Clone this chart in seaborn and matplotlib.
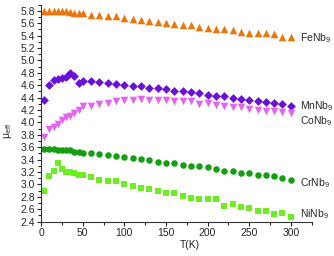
import numpy as np
import pandas as pd
import matplotlib
matplotlib.use("Agg")
import matplotlib.pyplot as plt
from matplotlib.ticker import MultipleLocator
import seaborn as sns

sns.set_style("ticks")
plt.rcParams['font.family'] = ['Liberation Sans', 'DejaVu Sans']
plt.rcParams['mathtext.default'] = 'regular'

# temperatures (K)
T = [4, 10, 15, 20, 25, 30, 35, 40, 45, 50,
     60, 70, 80, 90, 100, 110, 120, 130, 140, 150, 160, 170, 180, 190,
     200, 210, 220, 230, 240, 250, 260, 270, 280, 290, 300]

fe = [5.79, 5.80, 5.80, 5.80, 5.79, 5.79, 5.78, 5.77, 5.77, 5.76,
      5.74, 5.73, 5.72, 5.71, 5.68, 5.67, 5.65, 5.64, 5.62, 5.60, 5.58, 5.57, 5.57, 5.54,
      5.52, 5.51, 5.50, 5.49, 5.46, 5.45, 5.44, 5.44, 5.43, 5.38, 5.37]
mn = [4.36, 4.60, 4.68, 4.70, 4.72, 4.74, 4.80, 4.75, 4.64, 4.67,
      4.67, 4.65, 4.64, 4.62, 4.61, 4.59, 4.58, 4.56, 4.55, 4.54, 4.51, 4.50, 4.49, 4.47,
      4.44, 4.43, 4.42, 4.40, 4.38, 4.36, 4.35, 4.33, 4.31, 4.30, 4.27]
co = [3.77, 3.90, 3.93, 3.98, 4.04, 4.08, 4.10, 4.15, 4.20, 4.27,
      4.27, 4.30, 4.32, 4.35, 4.36, 4.37, 4.38, 4.37, 4.37, 4.36, 4.35, 4.34, 4.34, 4.30,
      4.31, 4.28, 4.26, 4.25, 4.25, 4.22, 4.20, 4.19, 4.19, 4.17, 4.15]
cr = [3.57, 3.57, 3.57, 3.56, 3.56, 3.55, 3.55, 3.53, 3.52, 3.51,
      3.50, 3.49, 3.48, 3.46, 3.45, 3.42, 3.41, 3.40, 3.37, 3.35, 3.34, 3.31, 3.30, 3.29,
      3.28, 3.25, 3.22, 3.21, 3.19, 3.18, 3.16, 3.15, 3.14, 3.10, 3.07]
ni = [2.90, 3.14, 3.22, 3.34, 3.25, 3.20, 3.20, 3.18, 3.15, 3.15,
      3.12, 3.08, 3.06, 3.05, 3.01, 2.98, 2.95, 2.93, 2.90, 2.87, 2.87, 2.81, 2.79, 2.77,
      2.77, 2.77, 2.66, 2.69, 2.63, 2.62, 2.58, 2.58, 2.52, 2.54, 2.47]

names = ["FeNb$_9$", "MnNb$_9$", "CoNb$_9$", "CrNb$_9$", "NiNb$_9$"]
label_y = [5.36, 4.26, 4.02, 3.03, 2.52]
colors = ["#E8780E", "#6A10D8", "#E464F0", "#12A012", "#6CEE20"]
markers = ["^", "D", "v", "o", "s"]
sizes = [30, 20, 30, 22, 20]

df = pd.concat([pd.DataFrame({"T": T, "mu": v, "s": n})
                for n, v in zip(names, [fe, mn, co, cr, ni])])

fig = plt.figure(figsize=(3.34, 2.56), dpi=100)
ax = fig.add_axes([0.123, 0.134, 0.81, 0.848])

for n, c, m, s in zip(names, colors, markers, sizes):
    sub = df[df["s"] == n]
    sns.scatterplot(data=sub, x="T", y="mu", color=c, marker=m, s=s,
                    linewidth=0, ax=ax, legend=False)

for n, y in zip(names, label_y):
    ax.text(311, y, n, fontsize=7.5, va="center", ha="left")

ax.set_xlim(0, 325)
ax.set_ylim(2.4, 5.9)
ax.xaxis.set_major_locator(MultipleLocator(50))
ax.xaxis.set_minor_locator(MultipleLocator(25))
ax.yaxis.set_major_locator(MultipleLocator(0.2))
ax.yaxis.set_minor_locator(MultipleLocator(0.1))
ax.set_xticks([0, 50, 100, 150, 200, 250, 300])
ax.tick_params(axis="both", which="major", labelsize=7.5, length=3, width=0.8, pad=1.5)
ax.tick_params(axis="both", which="minor", length=2, width=0.8)
ax.set_xlabel("T(K)", fontsize=7.5, labelpad=1)
ax.set_ylabel("$\\mu_{eff}$", fontsize=7.5, labelpad=1)
ax.xaxis.set_label_coords(0.55, -0.085)
ax.yaxis.set_label_coords(-0.1, 0.42)
for sp in ["top", "right"]:
    ax.spines[sp].set_visible(False)
for sp in ["left", "bottom"]:
    ax.spines[sp].set_linewidth(0.8)
    ax.spines[sp].set_color("#333333")

fig.savefig("out.png", dpi=100)
